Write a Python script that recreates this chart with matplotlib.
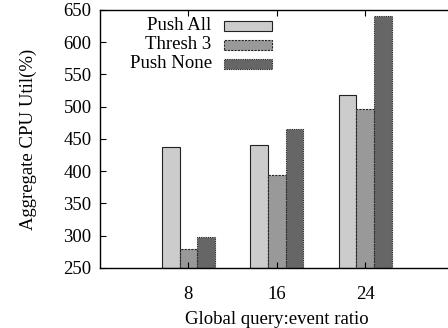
import numpy as np
import matplotlib.pyplot as plt
from matplotlib.patches import Rectangle

plt.rcParams['font.family'] = ['Liberation Serif', 'DejaVu Serif']

ratios = [8, 16, 24]
series = ["Push All", "Thresh 3", "Push None"]
push_all = [438, 440, 518]
thresh_3 = [280, 394, 497]
push_none = [298, 466, 640]

colors = ["#cccccc", "#999999", "#666666"]
styles = ["-", (0, (2, 1)), (0, (1, 1))]
fs = 13.5

fig = plt.figure(figsize=(4.48, 3.28), dpi=100)
ax = fig.add_axes([0.223, 0.183, 0.79, 0.787])

w = 1.6
x = np.array(ratios, dtype=float)
for i, vals in enumerate([push_all, thresh_3, push_none]):
    ax.bar(x + (i - 1) * w, np.array(vals) - 250, width=w, bottom=250,
           color=colors[i], edgecolor="#222222", linewidth=0.8,
           linestyle=styles[i])

ax.set_xlim(0, 32)
ax.set_ylim(250, 650)
ax.set_xticks(ratios)
ax.set_yticks(range(250, 651, 50))
ax.tick_params(direction="in", length=4, top=True, right=True, labelsize=fs, width=0.8)
ax.tick_params(axis="x", pad=13)
ax.tick_params(axis="y", pad=6)
for s in ax.spines.values():
    s.set_linewidth(1)
ax.set_xlabel("Global query:event ratio", fontsize=fs, labelpad=6)
ax.set_ylabel("Aggregate CPU Util(%)", fontsize=fs, labelpad=19)

# legend, gnuplot style: right-aligned labels with wide sample boxes
for i, name in enumerate(series):
    yc = 0.938 - i * 0.0735
    ax.text(0.316, yc, name, transform=ax.transAxes, ha="right", va="center", fontsize=fs)
    ax.add_patch(Rectangle((0.350, yc - 0.0195), 0.136, 0.039, transform=ax.transAxes,
                           facecolor=colors[i], edgecolor="#222222", linewidth=0.8,
                           linestyle=styles[i], clip_on=False))

fig.savefig("out.png", dpi=100)
